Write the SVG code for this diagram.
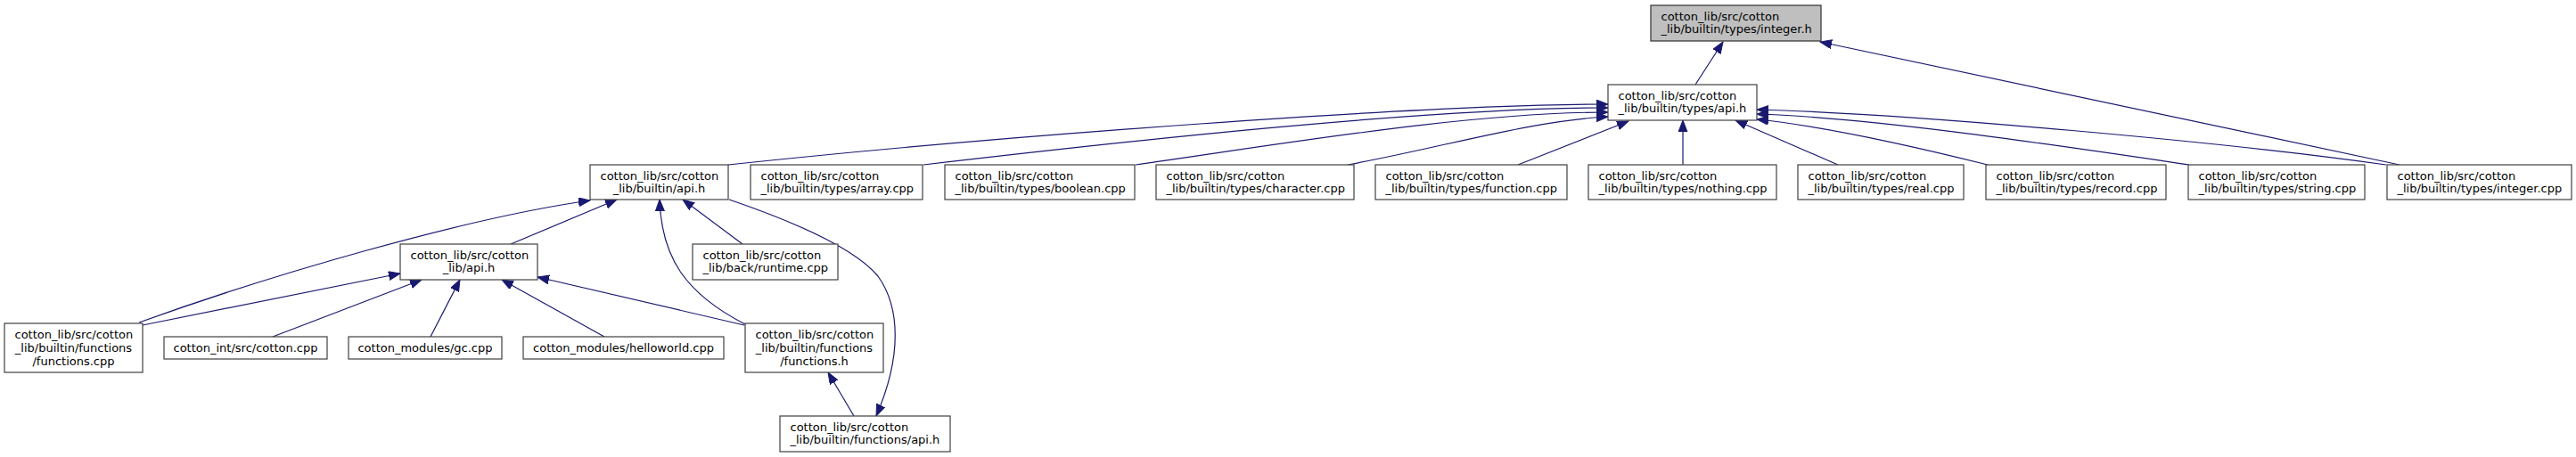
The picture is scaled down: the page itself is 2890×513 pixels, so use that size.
<svg xmlns="http://www.w3.org/2000/svg" width="2890" height="513" viewBox="0 0 2890 513">
<style>
.node rect{fill:#ffffff;stroke:#404040;stroke-width:1.2}
.node.root rect{fill:#bfbfbf;stroke:#303030}
.node text{font-family:"DejaVu Sans","Liberation Sans",sans-serif;font-size:13px;fill:#000}
.m{text-anchor:middle}
.s{text-anchor:start}
.edges path{fill:none;stroke:#191970;stroke-width:1.2;marker-end:url(#ah)}
</style>
<defs>
<marker id="ah" markerUnits="userSpaceOnUse" markerWidth="15" markerHeight="12" refX="13" refY="5" orient="auto">
<path d="M0,0 L13,5 L0,10 z" fill="#191970" stroke="#191970" stroke-width="1"/>
</marker>
</defs>
<rect width="2890" height="513" fill="#ffffff"/>
<g class="edges">
<path d="M1902,95 L1933,47"/>
<path d="M2692,185 L2042,47"/>
<path d="M817,185 C1117,153 1600,117 1804,117"/>
<path d="M1036,185 C1250,160 1600,121 1804,121"/>
<path d="M1274,185 C1450,160 1650,126 1804,126"/>
<path d="M1512,185 C1620,165 1720,135 1804,131"/>
<path d="M1703,185 L1827,136"/>
<path d="M1888,185 L1888,135"/>
<path d="M2062,185 L1947,135"/>
<path d="M2230,185 C2150,165 2050,142 1971,134"/>
<path d="M2456,185 C2300,162 2100,132 1971,128"/>
<path d="M2677,185 C2500,160 2150,128 1971,123"/>
<path d="M156,362 C300,310 520,245 662,225"/>
<path d="M160,365 L449,307"/>
<path d="M306,378 L473,314"/>
<path d="M483,378 L516,314"/>
<path d="M678,378 L563,314"/>
<path d="M835,365 L603,311"/>
<path d="M573,274 L692,224"/>
<path d="M836,364 C770,330 742,290 740,224"/>
<path d="M833,274 L766,224"/>
<path d="M818,224 C900,252 960,280 985,310 C1010,345 1012,400 983,467"/>
<path d="M958,467 L929,418"/>
</g>
<g id="n_integer_h" class="node root">
<rect x="1852" y="6" width="191" height="40"/>
<text class="s" x="1863.5" y="22.5">cotton_lib/src/cotton</text>
<text class="s" x="1863.5" y="37">_lib/builtin/types/integer.h</text>
</g>
<g id="n_types_api_h" class="node">
<rect x="1804" y="95" width="167" height="40"/>
<text class="s" x="1815.5" y="111.5">cotton_lib/src/cotton</text>
<text class="s" x="1815.5" y="126">_lib/builtin/types/api.h</text>
</g>
<g id="n_builtin_api_h" class="node">
<rect x="662" y="185" width="155" height="39"/>
<text class="s" x="673.5" y="201.5">cotton_lib/src/cotton</text>
<text class="m" x="739.5" y="216">_lib/builtin/api.h</text>
</g>
<g id="n_array_cpp" class="node">
<rect x="842" y="185" width="193" height="39"/>
<text class="s" x="853.5" y="201.5">cotton_lib/src/cotton</text>
<text class="s" x="853.5" y="216">_lib/builtin/types/array.cpp</text>
</g>
<g id="n_boolean_cpp" class="node">
<rect x="1060" y="185" width="213" height="39"/>
<text class="s" x="1071.5" y="201.5">cotton_lib/src/cotton</text>
<text class="s" x="1071.5" y="216">_lib/builtin/types/boolean.cpp</text>
</g>
<g id="n_character_cpp" class="node">
<rect x="1297" y="185" width="222" height="39"/>
<text class="s" x="1308.5" y="201.5">cotton_lib/src/cotton</text>
<text class="s" x="1308.5" y="216">_lib/builtin/types/character.cpp</text>
</g>
<g id="n_function_cpp" class="node">
<rect x="1543" y="185" width="215" height="39"/>
<text class="s" x="1554.5" y="201.5">cotton_lib/src/cotton</text>
<text class="s" x="1554.5" y="216">_lib/builtin/types/function.cpp</text>
</g>
<g id="n_nothing_cpp" class="node">
<rect x="1782" y="185" width="211" height="39"/>
<text class="s" x="1793.5" y="201.5">cotton_lib/src/cotton</text>
<text class="s" x="1793.5" y="216">_lib/builtin/types/nothing.cpp</text>
</g>
<g id="n_real_cpp" class="node">
<rect x="2017" y="185" width="186" height="39"/>
<text class="s" x="2028.5" y="201.5">cotton_lib/src/cotton</text>
<text class="s" x="2028.5" y="216">_lib/builtin/types/real.cpp</text>
</g>
<g id="n_record_cpp" class="node">
<rect x="2228" y="185" width="202" height="39"/>
<text class="s" x="2239.5" y="201.5">cotton_lib/src/cotton</text>
<text class="s" x="2239.5" y="216">_lib/builtin/types/record.cpp</text>
</g>
<g id="n_string_cpp" class="node">
<rect x="2455" y="185" width="198" height="39"/>
<text class="s" x="2466.5" y="201.5">cotton_lib/src/cotton</text>
<text class="s" x="2466.5" y="216">_lib/builtin/types/string.cpp</text>
</g>
<g id="n_integer_cpp" class="node">
<rect x="2678" y="185" width="207" height="39"/>
<text class="s" x="2689.5" y="201.5">cotton_lib/src/cotton</text>
<text class="s" x="2689.5" y="216">_lib/builtin/types/integer.cpp</text>
</g>
<g id="n_lib_api_h" class="node">
<rect x="449" y="274" width="154" height="40"/>
<text class="s" x="460.5" y="290.5">cotton_lib/src/cotton</text>
<text class="m" x="526" y="305">_lib/api.h</text>
</g>
<g id="n_runtime_cpp" class="node">
<rect x="777" y="274" width="163" height="40"/>
<text class="s" x="788.5" y="290.5">cotton_lib/src/cotton</text>
<text class="s" x="788.5" y="305">_lib/back/runtime.cpp</text>
</g>
<g id="n_functions_cpp" class="node">
<rect x="5" y="363" width="155" height="55"/>
<text class="s" x="16.5" y="379.5">cotton_lib/src/cotton</text>
<text class="m" x="82.5" y="394.5">_lib/builtin/functions</text>
<text class="m" x="82.5" y="409.5">/functions.cpp</text>
</g>
<g id="n_cotton_cpp" class="node">
<rect x="184" y="378" width="183" height="25"/>
<text class="m" x="275.5" y="394.5">cotton_int/src/cotton.cpp</text>
</g>
<g id="n_gc_cpp" class="node">
<rect x="391" y="378" width="172" height="25"/>
<text class="m" x="477" y="394.5">cotton_modules/gc.cpp</text>
</g>
<g id="n_helloworld_cpp" class="node">
<rect x="587" y="378" width="225" height="25"/>
<text class="m" x="699.5" y="394.5">cotton_modules/helloworld.cpp</text>
</g>
<g id="n_functions_h" class="node">
<rect x="836" y="363" width="155" height="55"/>
<text class="s" x="847.5" y="379.5">cotton_lib/src/cotton</text>
<text class="m" x="913.5" y="394.5">_lib/builtin/functions</text>
<text class="m" x="913.5" y="409.5">/functions.h</text>
</g>
<g id="n_functions_api_h" class="node">
<rect x="875" y="467" width="191" height="40"/>
<text class="s" x="886.5" y="483.5">cotton_lib/src/cotton</text>
<text class="s" x="886.5" y="498">_lib/builtin/functions/api.h</text>
</g>
</svg>
